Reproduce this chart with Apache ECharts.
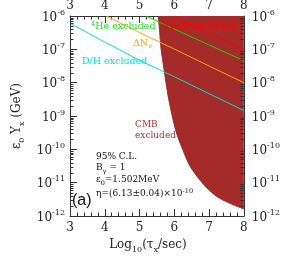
<!DOCTYPE html>
<html>
<head>
<meta charset="utf-8">
<script src="https://cdn.jsdelivr.net/npm/echarts@6/dist/echarts.min.js"></script>
<style>html,body{margin:0;padding:0;background:#fff}#c{width:283px;height:278px}</style>
</head>
<body>
<div id="c"></div>
<script>
// ---- data ----
var xTicks = [3, 4, 5, 6, 7, 8];
var yTickExponents = [-12, -11, -10, -9, -8, -7, -6];
// constraint lines: [log10(tau/sec), eps0*Yx (GeV)]
var dhLine   = [[3, 6.03e-7], [4, 1.66e-7], [5, 4.68e-8], [6, 1.51e-8], [7, 4.68e-9], [8, 1.45e-9]];
var dnuLine  = [[4.04, 1e-6], [5, 3.2e-7], [6, 1.02e-7], [7, 3.16e-8], [8, 1.0e-8]];
var he4Line  = [[5.18, 1e-6], [6, 4.07e-7], [7, 1.35e-7], [8, 4.57e-8]];
var he3Line  = [[5.9, 1e-6], [7, 3.0e-7], [8, 1.0e-7]];
// CMB excluded region boundary (region lies to the upper right)
var cmbBoundary = [[5.54, 1e-6], [5.58, 3.16e-7], [5.62, 1e-7], [5.69, 3.16e-8], [5.76, 1e-8],
  [5.84, 3.16e-9], [5.94, 1e-9], [6.06, 3.16e-10], [6.24, 1e-10], [6.45, 3.16e-11],
  [6.80, 1e-11], [7.2, 3.98e-12], [7.6, 2.4e-12], [8.0, 1.62e-12]];

var minorY = [];
for (var e = -12; e < -6; e++) for (var k = 2; k <= 9; k++) minorY.push([3, k * Math.pow(10, e)]);

var SERIF = '"DejaVu Serif", "Liberation Serif", serif';
var AX = '#333';

function yLabel(v) {
  var ex = Math.round(Math.log10(v));
  return '{b|10}{s|' + ex + '}';
}
var yRich = {
  b: {fontFamily: SERIF, fontSize: 12, color: '#222', lineHeight: 15, verticalAlign: 'bottom'},
  s: {fontFamily: SERIF, fontSize: 8, color: '#222', lineHeight: 15, verticalAlign: 'top'}
};

function xAxisCfg(pos, withName) {
  var o = {
    type: 'value', position: pos, min: 3, max: 8, interval: 1,
    axisLine: {show: true, onZero: false, lineStyle: {color: AX, width: 1}},
    axisTick: {show: true, inside: true, length: 7, lineStyle: {color: AX}},
    minorTick: {show: true, splitNumber: 5, length: 3.5, lineStyle: {color: AX}},
    splitLine: {show: false},
    axisLabel: {margin: pos === 'top' ? 4 : 6, fontFamily: SERIF, fontSize: 12, color: '#222'}
  };
  if (withName) {
    o.name = '{t|Log}{u|10}{t|(τ}{u|x}{t|/sec)}';
    o.nameLocation = 'middle';
    o.nameGap = 23;
    o.nameTextStyle = {padding: [0, 18, 0, 0], rich: {
      t: {fontFamily: SERIF, fontSize: 12, color: '#222', lineHeight: 15, verticalAlign: 'top'},
      u: {fontFamily: SERIF, fontSize: 8, color: '#222', lineHeight: 15, verticalAlign: 'bottom'}
    }};
  }
  return o;
}
function yAxisCfg(pos, withName) {
  var o = {
    type: 'log', logBase: 10, position: pos, min: 1e-12, max: 1e-6, interval: 1,
    axisLine: {show: true, onZero: false, lineStyle: {color: AX, width: 1}},
    axisTick: {show: true, inside: true, length: 7, lineStyle: {color: AX}},
    minorTick: {show: false},
    splitLine: {show: false},
    axisLabel: {margin: pos === 'right' ? 8 : 5, formatter: yLabel, rich: yRich}
  };
  if (withName) {
    o.name = '{t|ε}{u|0}{t| Y}{u|x}{t| (GeV)}';
    o.nameLocation = 'middle';
    o.nameGap = 44;
    o.nameTextStyle = {rich: {
      t: {fontFamily: SERIF, fontSize: 12, color: '#222', lineHeight: 15, verticalAlign: 'top'},
      u: {fontFamily: SERIF, fontSize: 8, color: '#222', lineHeight: 15, verticalAlign: 'bottom'}
    }};
  }
  return o;
}

function lineSeries(data, color) {
  return {type: 'line', data: data, symbol: 'none', silent: true, z: 5,
    lineStyle: {color: color, width: 1}, clip: true};
}

// rich text helpers for annotations
function richSet(size, color, lh) {
  var small = Math.round(size * 0.72 * 10) / 10;
  return {
    n: {fontFamily: SERIF, fontSize: size, fill: color, lineHeight: lh, verticalAlign: 'bottom'},
    s: {fontFamily: SERIF, fontSize: small, fill: color, lineHeight: lh, verticalAlign: 'top'},
    m: {fontFamily: SERIF, fontSize: size, fill: color, lineHeight: lh, verticalAlign: 'top'},
    u: {fontFamily: SERIF, fontSize: small, fill: color, lineHeight: lh, verticalAlign: 'bottom'}
  };
}

var chart = echarts.init(document.getElementById('c'), null, {renderer: 'canvas'});
chart.setOption({
  animation: false,
  backgroundColor: '#fff',
  grid: {left: 70, right: 37, top: 16, bottom: 62},
  xAxis: [xAxisCfg('bottom', true), xAxisCfg('top', false)],
  yAxis: [yAxisCfg('left', true), yAxisCfg('right', false)],
  series: [
    {type: 'line', data: cmbBoundary, symbol: 'none', smooth: 0.3, z: 2, silent: true,
      lineStyle: {color: '#a52a2a', width: 1},
      areaStyle: {color: '#a52a2a', opacity: 1, origin: 'end'}},
    lineSeries(dhLine, '#00dddd'),
    lineSeries(dnuLine, '#ffa500'),
    lineSeries(he4Line, '#22cc00'),
    lineSeries(he3Line, '#ff0000'),
    {type: 'custom', data: minorY, z: 6, silent: true,
      renderItem: function (params, api) {
        var v = api.value(1);
        var pl = api.coord([3, v]);
        var pr = api.coord([8, v]);
        var st = {stroke: AX, lineWidth: 1};
        return {type: 'group', children: [
          {type: 'line', shape: {x1: pl[0], y1: Math.round(pl[1]) + 0.5, x2: pl[0] + 3.5, y2: Math.round(pl[1]) + 0.5}, style: st},
          {type: 'line', shape: {x1: pr[0], y1: Math.round(pr[1]) + 0.5, x2: pr[0] - 3.5, y2: Math.round(pr[1]) + 0.5}, style: st}
        ]};
      }}
  ],
  graphic: [
    {type: 'text', z: 10, style: {x: 91, y: 26, verticalAlign: 'middle',
      text: '{s|4}{n|He excluded}', rich: richSet(9.5, '#22dd22', 11)}},
    {type: 'text', z: 10, style: {x: 133, y: 44, verticalAlign: 'middle',
      text: '{m|ΔN}{u|ν}', rich: richSet(9.5, '#ffa500', 11)}},
    {type: 'text', z: 10, style: {x: 82, y: 62, verticalAlign: 'middle', text: 'D/H excluded',
      fontFamily: SERIF, fontSize: 9.5, fill: '#00dddd'}},
    {type: 'text', z: 10, style: {x: 161, y: 26, verticalAlign: 'middle',
      text: '{s|3}{n|He/D excluded}', rich: richSet(9.5, '#ff0000', 11)}},
    {type: 'text', z: 10, style: {x: 135, y: 125, verticalAlign: 'middle', text: 'CMB',
      fontFamily: SERIF, fontSize: 9, fill: '#b03030'}},
    {type: 'text', z: 10, style: {x: 135, y: 136, verticalAlign: 'middle', text: 'excluded',
      fontFamily: SERIF, fontSize: 9, fill: '#b03030'}},
    {type: 'text', z: 10, style: {x: 96, y: 157, verticalAlign: 'middle', text: '95% C.L.',
      fontFamily: SERIF, fontSize: 9, fill: '#111'}},
    {type: 'text', z: 10, style: {x: 96, y: 169, verticalAlign: 'middle',
      text: '{m|B}{u|γ}{m| = 1}', rich: richSet(9, '#111', 11)}},
    {type: 'text', z: 10, style: {x: 96, y: 181, verticalAlign: 'middle',
      text: '{m|ε}{u|0}{m|=1.502MeV}', rich: richSet(9, '#111', 11)}},
    {type: 'text', z: 10, style: {x: 96, y: 193, verticalAlign: 'middle',
      text: '{n|η=(6.13±0.04)×10}{s|-10}', rich: richSet(9, '#111', 11)}},
    {type: 'text', z: 10, style: {x: 72, y: 201, verticalAlign: 'middle', text: '(a)',
      fontFamily: '"Liberation Sans", Arial, sans-serif', fontSize: 16, fill: '#111'}}
  ]
});
</script>
</body>
</html>
